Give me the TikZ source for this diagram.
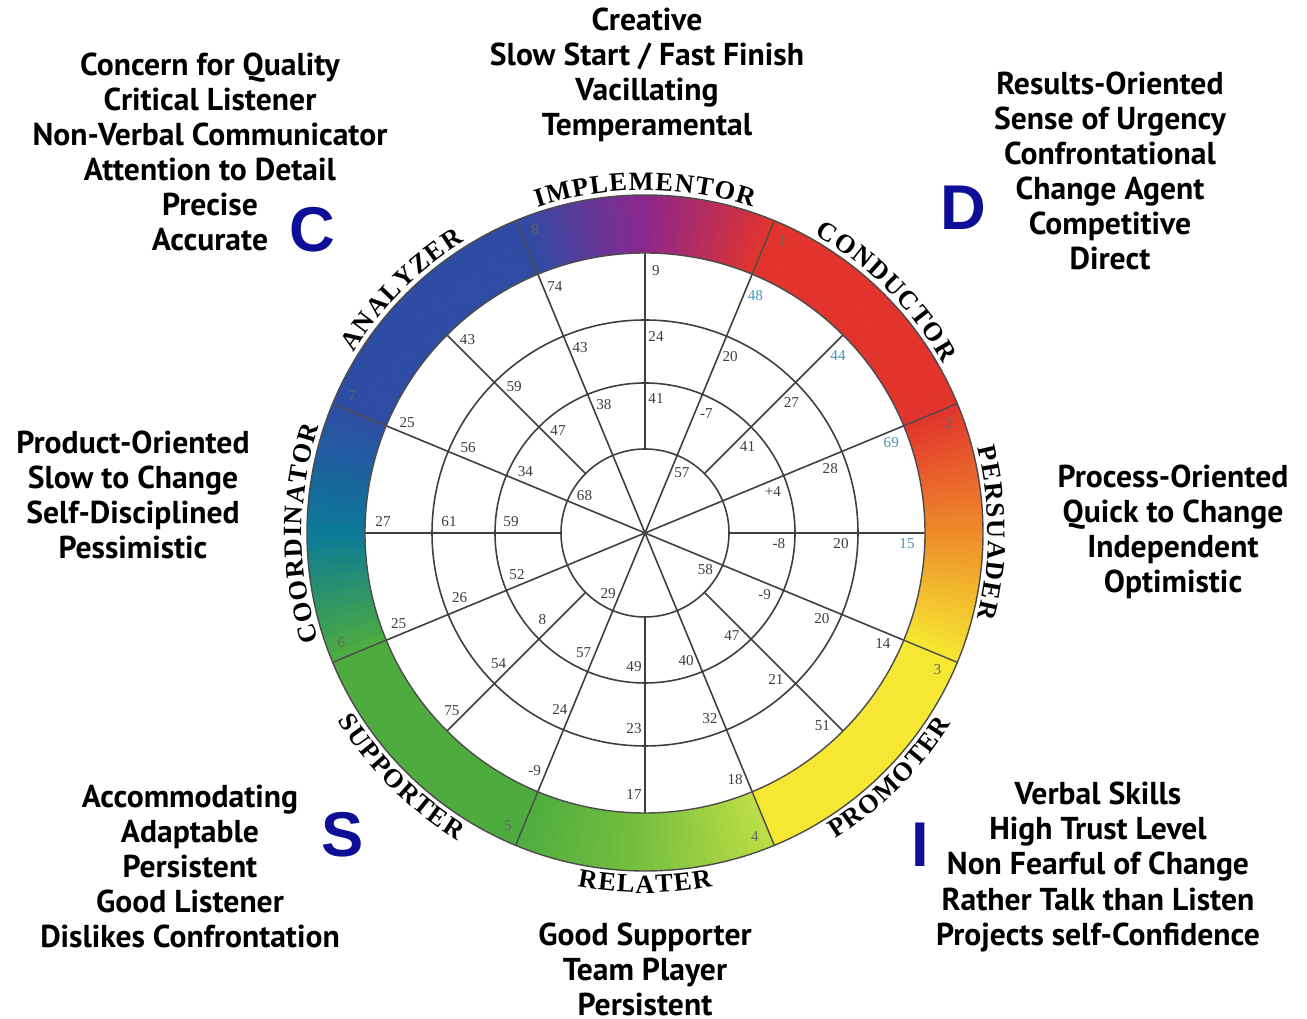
\documentclass[tikz,border=0pt]{standalone}
\usepackage{fontspec}
\setmainfont{PT Sans}
\newfontfamily\ringserif{Liberation Serif}
\newfontfamily\heavysans{Liberation Sans}
\usetikzlibrary{decorations.text,calc}

% Ring colours
\definecolor{ringblue}{RGB}{46,76,164}
\definecolor{ringpurple}{RGB}{140,38,140}
\definecolor{ringred}{RGB}{226,52,44}
\definecolor{ringorange}{RGB}{238,140,42}
\definecolor{ringyellow}{RGB}{246,232,50}
\definecolor{ringteal}{RGB}{10,122,152}
\definecolor{ringgreen}{RGB}{78,172,62}
\definecolor{ringlime}{RGB}{120,192,62}
\definecolor{ringlimeb}{RGB}{190,222,70}
\definecolor{letterblue}{RGB}{14,14,150}
\definecolor{gridgray}{RGB}{62,62,62}
\definecolor{numcyan}{RGB}{70,150,185}

\newcommand{\wheelfont}{\ringserif\bfseries\fontsize{7.5}{9}\selectfont}
\newcommand{\lsp}{\kern0.4pt}

\tikzset{
  trait/.style={align=center, inner sep=0pt,
    font=\bfseries\fontsize{9.0}{9.96}\selectfont},
  bigletter/.style={inner sep=0pt, text=letterblue,
    font=\heavysans\bfseries\fontsize{18}{18}\selectfont},
  gridnum/.style={inner sep=0pt, text=gridgray,
    font=\ringserif\fontsize{4.3}{5}\selectfont},
  ringnum/.style={inner sep=0pt, text=black!60,
    font=\ringserif\fontsize{4.3}{5}\selectfont},
  gridline/.style={draw=gridgray, line width=0.45pt},
  ringline/.style={draw=black!70, line width=0.4pt},
}

\begin{document}
\begin{tikzpicture}

\useasboundingbox (0,0) rectangle (13.07,10.19);

% Geometry constants
\def\rin{2.80}     % inner radius of colour ring
\def\rout{3.38}    % outer radius of colour ring
\def\rtop{3.43}    % baseline of upper ring names
\def\rbot{3.60}    % baseline of lower ring names

\coordinate (O) at (6.45,4.86);

\begin{scope}[shift={(O)}]

% Colour ring, 16 pieces of 22.5 degrees
\foreach \a/\ca/\cb in {-22.5/ringyellow/ringorange, 0/ringorange/ringred,
    22.5/ringred/ringred, 45/ringred/ringred, 67.5/ringred/ringpurple,
    90/ringpurple/ringblue, 112.5/ringblue/ringblue, 135/ringblue/ringblue,
    157.5/ringblue/ringteal, 180/ringteal/ringgreen, 202.5/ringgreen/ringgreen,
    225/ringgreen/ringgreen, 247.5/ringgreen/ringlime, 270/ringlime/ringlimeb,
    292.5/ringyellow/ringyellow, 315/ringyellow/ringyellow} {
  \foreach \i in {0,...,14} {
    \pgfmathtruncatemacro\p{100*(1-(\i+0.5)/15)}
    \pgfmathsetmacro\s{\a+\i*1.5}
    \pgfmathsetmacro\e{\s+1.6}
    \fill[\ca!\p!\cb] (\s:\rin) arc[start angle=\s, end angle=\e, radius=\rin]
      -- (\e:\rout) arc[start angle=\e, end angle=\s, radius=\rout] -- cycle;
  }
}

% White grid disk
\fill[white] (0,0) circle (\rin);
\foreach \r in {0.84,1.50,2.13}
  \draw[gridline] (0,0) circle (\r);
\foreach \a in {22.5,67.5,...,337.5}
  \draw[gridline] (0,0) -- (\a:\rin);
\foreach \a in {0,45,...,315}
  \draw[gridline] (\a:0.84) -- (\a:\rin);

% Ring outline and segment borders
\foreach \a in {22.5,67.5,...,337.5}
  \draw[ringline] (\a:\rin) -- (\a:\rout);
\draw[ringline] (0,0) circle (\rin);
\draw[ringline] (0,0) circle (\rout);

% Segment numbers
\foreach \a/\t [count=\k] in {67.5/1, 22.5/2, -22.5/3, -67.5/4,
    -112.5/5, -157.5/6, 157.5/7, 112.5/8}
  \node[ringnum] (seg\k) at (\a-2.6:3.23) {\t};

% Grid numbers, next to the spokes
\foreach \a/\r/\t [count=\k] in {90/2.62/9, 90/1.96/24, 90/1.34/41,
    67.5/1.96/20, 67.5/1.34/-7, 67.5/0.70/57,
    45/1.96/27, 45/1.34/41,
    22.5/1.96/28, 22.5/1.34/+4,
    0/1.96/20, 0/1.34/-8,
    -22.5/2.62/14, -22.5/1.96/20, -22.5/1.34/-9, -22.5/0.70/58,
    -45/2.62/51, -45/1.96/21, -45/1.34/47,
    -67.5/2.62/18, -67.5/1.96/32, -67.5/1.34/40,
    -90/2.62/17, -90/1.96/23, -90/1.34/49,
    -112.5/2.62/-9, -112.5/1.96/24, -112.5/1.34/57, -112.5/0.70/29,
    -135/2.62/75, -135/1.96/54, -135/1.34/8,
    -157.5/2.62/25, -157.5/1.96/26, -157.5/1.34/52,
    180/2.62/27, 180/1.96/61, 180/1.34/59,
    157.5/2.62/25, 157.5/1.96/56, 157.5/1.34/34, 157.5/0.70/68,
    135/2.62/43, 135/1.96/59, 135/1.34/47,
    112.5/2.62/74, 112.5/1.96/43, 112.5/1.34/38}
  \node[gridnum] (g\k) at ($(\a:\r)+(\a-90:0.11)$) {\t};

% Outer numbers in cyan
\foreach \a/\t [count=\k] in {67.5/48, 45/44, 22.5/69, 0/15}
  \node[gridnum, text=numcyan] (c\k) at ($(\a:2.62)+(\a-90:0.11)$) {\t};

% Ring names, upper half reads clockwise
\path[decorate, decoration={text along path, text align=center,
    text={|\wheelfont|{A\lsp}{N\lsp}{A\lsp}{L\lsp}{Y\lsp}{Z\lsp}{E\lsp}{R}}}]
  (160:\rtop) arc[start angle=160, end angle=110, radius=\rtop];
\path[decorate, decoration={text along path, text align=center,
    text={|\wheelfont|{I\lsp}{M\lsp}{P\lsp}{L\lsp}{E\lsp}{M\lsp}{E\lsp}{N\lsp}{T\lsp}{O\lsp}{R}}}]
  (115:\rtop) arc[start angle=115, end angle=65, radius=\rtop];
\path[decorate, decoration={text along path, text align=center,
    text={|\wheelfont|{C\lsp}{O\lsp}{N\lsp}{D\lsp}{U\lsp}{C\lsp}{T\lsp}{O\lsp}{R}}}]
  (70:\rtop) arc[start angle=70, end angle=20, radius=\rtop];
\path[decorate, decoration={text along path, text align=center,
    text={|\wheelfont|{P\lsp}{E\lsp}{R\lsp}{S\lsp}{U\lsp}{A\lsp}{D\lsp}{E\lsp}{R}}}]
  (25:\rtop) arc[start angle=25, end angle=-25, radius=\rtop];
\path[decorate, decoration={text along path, text align=center,
    text={|\wheelfont|{C\lsp}{O\lsp}{O\lsp}{R\lsp}{D\lsp}{I\lsp}{N\lsp}{A\lsp}{T\lsp}{O\lsp}{R}}}]
  (207:\rtop) arc[start angle=207, end angle=153, radius=\rtop];

% Ring names, lower half reads counter-clockwise
\path[decorate, decoration={text along path, text align=center,
    text={|\wheelfont|{S\lsp}{U\lsp}{P\lsp}{P\lsp}{O\lsp}{R\lsp}{T\lsp}{E\lsp}{R}}}]
  (-160:\rbot) arc[start angle=-160, end angle=-110, radius=\rbot];
\path[decorate, decoration={text along path, text align=center,
    text={|\wheelfont|{R\lsp}{E\lsp}{L\lsp}{A\lsp}{T\lsp}{E\lsp}{R}}}]
  (-115:\rbot) arc[start angle=-115, end angle=-65, radius=\rbot];
\path[decorate, decoration={text along path, text align=center,
    text={|\wheelfont|{P\lsp}{R\lsp}{O\lsp}{M\lsp}{O\lsp}{T\lsp}{E\lsp}{R}}}]
  (-70:\rbot) arc[start angle=-70, end angle=-20, radius=\rbot];

\end{scope}

% Style letters
\node[bigletter] (lc) at (3.12,7.89) {C};
\node[bigletter] (ld) at (9.63,8.11) {D};
\node[bigletter] (ls) at (3.43,1.84) {S};
\node[bigletter] (li) at (9.20,1.74) {I};

% Trait lists
\node[trait] (tc) at (2.10,8.67) {Concern for Quality\\Critical Listener\\
  Non-Verbal Communicator\\Attention to Detail\\Precise\\Accurate};
\node[trait] (ttop) at (6.47,9.44) {Creative\\Slow Start / Fast Finish\\
  Vacillating\\Temperamental};
\node[trait] (td) at (11.10,8.48) {Results-Oriented\\Sense of Urgency\\
  Confrontational\\Change Agent\\Competitive\\Direct};
\node[trait] (tleft) at (1.33,5.24) {Product-Oriented\\Slow to Change\\
  Self-Disciplined\\Pessimistic};
\node[trait] (tright) at (11.73,4.87) {Process-Oriented\\Quick to Change\\
  Independent\\Optimistic};
\node[trait] (ts) at (1.90,1.53) {Accommodating\\Adaptable\\Persistent\\
  Good Listener\\Dislikes Confrontation};
\node[trait] (tbot) at (6.45,0.50) {Good Supporter\\Team Player\\Persistent};
\node[trait] (ti) at (10.98,1.52) {Verbal Skills\\High Trust Level\\
  Non Fearful of Change\\Rather Talk than Listen\\Projects self-Confidence};

\end{tikzpicture}
\end{document}
